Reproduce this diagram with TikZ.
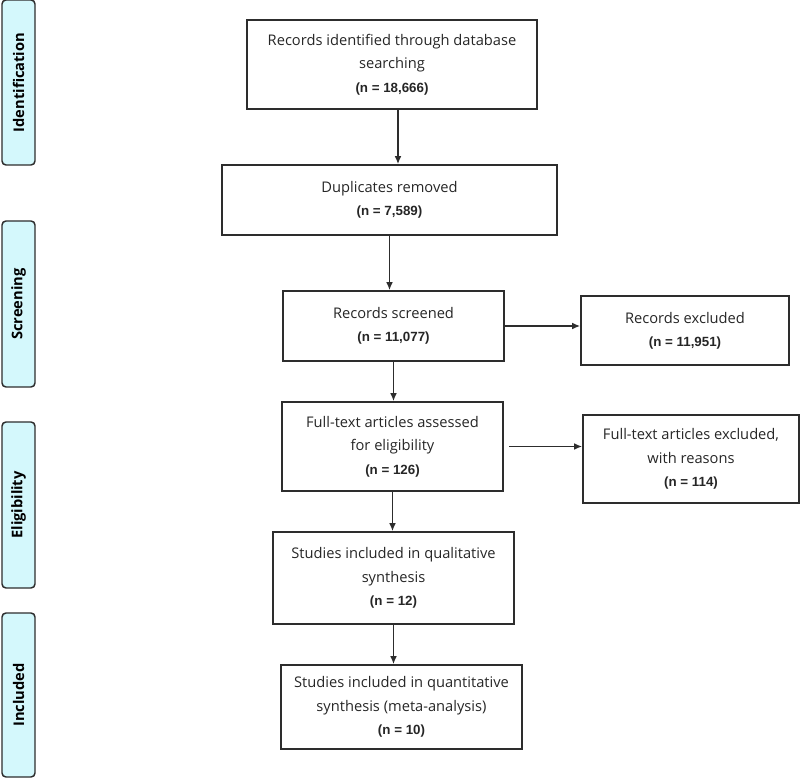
\documentclass[tikz,border=0pt]{standalone}
\usepackage{fontspec}
\setmainfont{Open Sans}
\newfontfamily\numfont{Liberation Sans}
\usepackage{tikz}
\usetikzlibrary{arrows.meta}
\definecolor{phasefill}{RGB}{212,248,252}
\definecolor{edgegray}{RGB}{45,45,45}
\newcommand{\cnt}[1]{{\numfont\bfseries\fontsize{10}{17.5}\selectfont #1}}
\tikzset{box/.style={rectangle, draw=edgegray, line width=1.2pt, align=center, inner sep=2pt,
    font=\fontsize{11}{17.5}\selectfont, text=black!85},
  phase/.style={rectangle, rounded corners=3pt, draw=edgegray, line width=1.1pt, fill=phasefill,
    rotate=90, minimum height=24.75pt, font=\bfseries\fontsize{11}{14}\selectfont},
  arr/.style={-{Latex[length=6pt,width=5pt]}, line width=1.1pt, draw=edgegray}}

\begin{document}
\begin{tikzpicture}[x=0.75pt,y=-0.75pt]
  \useasboundingbox (0,0) rectangle (800,780);
  % phases
  \node[phase, minimum width=123.75pt] (ident) at (18.5,82.5) {Identification};
  \node[phase, minimum width=124.5pt] (screen) at (18.5,304) {Screening};
  \node[phase, minimum width=124.5pt] (elig) at (18.5,505) {Eligibility};
  \node[phase, minimum width=123pt] (incl) at (18.5,695) {Included};
  % boxes
  \node[box, minimum width=217.5pt, minimum height=66.75pt] (rec) at (392,64.5)
    {Records identified through database\\searching\\\cnt{(n = 18,666)}};
  \node[box, minimum width=251.25pt, minimum height=52.5pt] (dup) at (389.5,200)
    {Duplicates removed\\\cnt{(n = 7,589)}};
  \node[box, minimum width=165.75pt, minimum height=52.5pt] (scr) at (393.5,326)
    {Records screened\\\cnt{(n = 11,077)}};
  \node[box, minimum width=156pt, minimum height=51.75pt] (exc) at (685,330.5)
    {Records excluded\\\cnt{(n = 11,951)}};
  \node[box, minimum width=165.75pt, minimum height=66.75pt] (full) at (392.5,446.5)
    {Full-text articles assessed\\for eligibility\\\cnt{(n = 126)}};
  \node[box, minimum width=162pt, minimum height=66pt] (fexc) at (691,459)
    {Full-text articles excluded,\\with reasons\\\cnt{(n = 114)}};
  \node[box, minimum width=180.75pt, minimum height=69pt] (qual) at (393.5,578)
    {Studies included in qualitative\\synthesis\\\cnt{(n = 12)}};
  \node[box, minimum width=180.75pt, minimum height=63pt] (quant) at (401.5,707)
    {Studies included in quantitative\\synthesis (meta-analysis)\\\cnt{(n = 10)}};
  % arrows
  \draw[arr] ([xshift=4.5pt]rec.south) -- ([xshift=4.5pt]rec.south |- dup.north);
  \draw[arr] (dup) -- (dup |- scr.north);
  \draw[arr] (scr) -- (scr |- full.north);
  \draw[arr] (scr) -- (scr -| exc.west);
  \draw[arr, shorten <=4pt] (full) -- (full -| fexc.west);
  \draw[arr] (full) -- (full |- qual.north);
  \draw[arr] (qual) -- (qual |- quant.north);
\end{tikzpicture}
\end{document}
